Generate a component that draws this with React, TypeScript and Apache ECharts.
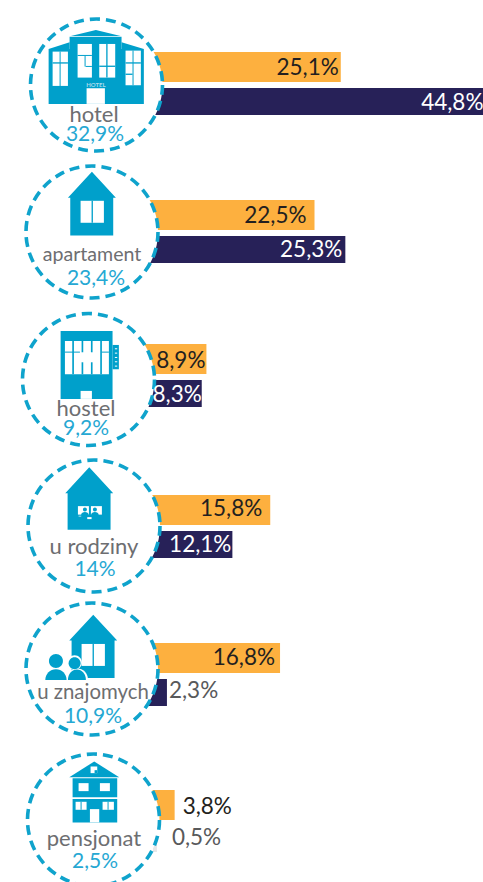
import React, { useEffect, useRef } from "react";
import * as echarts from "echarts";

const categories = ["hotel", "apartament", "hostel", "u rodziny", "u znajomych", "pensjonat"];
const shareValues = [32.9, 23.4, 9.2, 14, 10.9, 2.5];
const orangeValues = [25.1, 22.5, 8.9, 15.8, 16.8, 3.8];
const darkValues = [44.8, 25.3, 8.3, 12.1, 2.3, 0.5];

// layout (px)
const orangeTop = [52, 200, 344, 495, 643, 790];
const darkTop = [88, 236, 380, 531, 679, 825];
const orangeOrigin = [145, 139, 137, 147, 149, 145];
const darkOrigin = [137, 148, 137, 138, 149, 153];
const orangeLabelGap = [2, 8, 1, 8, 5, 8];
const darkLabelGap = [3, 3, 0, 1, 2, 15];
const orangeLabelDy = [-1, -1, 0, -3, -2, 0];
const darkLabelDy = [0, -1, 0, -1, -3, -2];
const circleX = [96.5, 92, 88.5, 94, 92, 93.5];
const circleY = [85, 232, 379.5, 526, 669, 820];
const labelPos = [[94, 113], [92, 253], [86, 407], [94, 545], [93, 691], [94, 837]];
const valuePos = [[95, 132], [96, 276], [86, 426], [95, 567], [93, 714], [95, 859]];
const labelSize = [22, 19.6, 22, 22, 20.4, 22];

const ORANGE = "#fdb03f";
const NAVY = "#272158";
const BLUE = "#00a0cb";
const TXTBLUE = "#26a8d3";
const GREY = "#6d6e71";
const INK = "#231f20";
const FONT = "Lato, 'Open Sans', sans-serif";
const PX_PER_UNIT = 7.8;
const AXIS_MAX = 50;

const fmt = (v: number) => String(v).replace(".", ",") + "%";

const r = (x0: number, y0: number, x1: number, y1: number, fill = BLUE) => ({
  type: "rect",
  shape: { x: x0, y: y0, width: x1 - x0, height: y1 - y0 },
  style: { fill },
});
const w = (x0: number, y0: number, x1: number, y1: number) => r(x0, y0, x1, y1, "#ffffff");
const poly = (points: number[][], fill = BLUE) => ({ type: "polygon", shape: { points }, style: { fill } });
const house = (cx: number, top: number, eave: number, bottom: number) =>
  poly([
    [cx, top], [cx + 72, eave], [cx + 64, eave], [cx + 64, bottom],
    [cx - 65, bottom], [cx - 65, eave], [cx - 72, eave],
  ]);
const icon = (y: number, children: any[]) => ({
  type: "group", x: 0, y, scaleX: 1 / 3, scaleY: 1 / 3, z: 6, children: children.map((c) => ({ ...c, z: 6 })),
});
const body = (cx: number, cy: number, rx: number, ry: number, fill = BLUE) => ({
  type: "ellipse", shape: { cx, cy, rx, ry }, style: { fill },
});

const icons = [
  icon(0, [
    poly([[213, 108], [288, 90], [362, 108]]),
    r(209, 110, 365, 150),
    poly([[146, 147], [209, 127], [209, 150]]),
    poly([[365, 127], [432, 147], [365, 150]]),
    r(146, 147, 432, 312),
    w(158, 155, 204, 258), r(179, 155, 182, 258), r(158, 187, 204, 191),
    w(233, 132, 276, 233), r(233, 165, 276, 168), r(254, 168, 257, 200), r(257, 198, 276, 201),
    w(298, 132, 346, 233), r(319, 132, 323, 233), r(298, 197, 346, 201),
    w(377, 152, 423, 256), r(398, 152, 401, 256), r(377, 187, 423, 191), r(377, 221, 398, 225),
    w(260, 265, 315, 312),
    { type: "text", style: { text: "HOTEL", x: 288, y: 254, align: "center", verticalAlign: "middle", fontFamily: FONT, fontSize: 18, fontWeight: 700, fill: "#a9dcec" } },
  ]),
  icon(0, [
    house(276, 516, 594, 707),
    w(242, 603, 312, 669), r(275, 603, 279, 669),
  ]),
  icon(300, [
    r(182, 93, 338, 297),
    r(338, 135, 357, 208),
    ...[145, 158, 171, 184, 197].map((y) => w(345, y, 352, y + 3)),
    w(195, 123, 327, 223),
    r(217, 123, 222, 223), r(301, 123, 306, 223),
    r(245, 123, 250, 157), r(273, 123, 278, 157),
    r(245, 187, 250, 223), r(273, 187, 278, 223),
    r(195, 155, 240, 158), r(305, 155, 327, 158),
    w(242, 273, 276, 297),
  ]),
  icon(300, [
    house(268, 502, 580, 690),
    w(234, 619, 267, 645), w(273, 619, 306, 645),
    body(255, 629, 6, 6), body(285, 629, 6, 6),
    body(255, 644, 11, 7), body(285, 644, 11, 7),
    r(230, 645, 310, 660),
    w(236, 648, 244, 650), w(262, 652, 275, 658),
  ]),
  icon(590, [
    house(280, 74, 152, 264),
    w(245, 162, 315, 228), r(278, 162, 282, 228),
    { ...body(224, 218, 22, 22, "#ffffff") },
    { ...body(232, 268, 32, 32, "#ffffff") },
    body(168, 213, 21, 21),
    body(168, 270, 32, 32),
    body(224, 220, 18, 18),
    body(231, 270, 27, 31),
    w(130, 270, 270, 305),
  ]),
  icon(590, [
    poly([[283, 515], [358, 562], [208, 562]]),
    w(272, 530, 292, 550), r(284, 541, 292, 550),
    r(218, 565, 352, 622),
    r(218, 628, 352, 698),
    w(236, 580, 266, 604), w(300, 580, 330, 604),
    w(227, 636, 260, 660), r(242, 636, 245, 660),
    w(308, 636, 342, 660), r(323, 636, 326, 660),
    w(270, 658, 298, 698),
  ]),
];

export default function App() {
  const ref = useRef<HTMLDivElement>(null);
  useEffect(() => {
    document.body.style.margin = "0";
    const chart = echarts.init(ref.current!, null, { renderer: "svg" });
    const grids: any[] = [];
    const xAxes: any[] = [];
    const yAxes: any[] = [];
    const series: any[] = [];

    const addBar = (
      name: string, category: string, value: number, color: string, left: number, top: number, height: number,
      label: any,
    ) => {
      const i = grids.length;
      grids.push({ left, top, height, width: AXIS_MAX * PX_PER_UNIT, outerBoundsMode: "none" });
      xAxes.push({ type: "value", gridIndex: i, min: 0, max: AXIS_MAX, show: false });
      yAxes.push({ type: "category", gridIndex: i, data: [category], show: false });
      series.push({
        name, type: "bar", xAxisIndex: i, yAxisIndex: i, data: [value], barWidth: "100%", barGap: "-100%",
        itemStyle: { color }, z: 2, silent: true,
      });
      // transparent twin, drawn above the circles, carries the value label
      series.push({
        name: name + " label", type: "bar", xAxisIndex: i, yAxisIndex: i, data: [value], barWidth: "100%", barGap: "-100%",
        itemStyle: { color: "transparent" }, z: 10, silent: true,
        label: { show: true, formatter: () => fmt(value), fontFamily: FONT, fontSize: 22.5, ...label },
      });
    };

    categories.forEach((c, i) => {
      const oOutside = orangeValues[i] < 5;
      addBar("A", c, orangeValues[i], ORANGE, orangeOrigin[i], orangeTop[i], 30, {
        position: oOutside ? "right" : "insideRight",
        distance: orangeLabelGap[i],
        offset: [0, orangeLabelDy[i]],
        color: INK,
      });
      const dOutside = darkValues[i] < 5;
      addBar("B", c, darkValues[i], darkValues[i] < 1 ? "#e6e7e8" : NAVY, darkOrigin[i], darkTop[i], 27, {
        position: dOutside ? "right" : "insideRight",
        distance: darkLabelGap[i],
        offset: [0, darkLabelDy[i]],
        color: dOutside ? "#58595b" : "#ffffff",
      });
    });

    const circles = categories.map((_, i) => ({
      type: "circle", z: 5,
      shape: { cx: circleX[i], cy: circleY[i], r: 66 },
      style: { fill: "#ffffff", stroke: "#0fa3cc", lineWidth: 3.6, lineDash: [10, 6] },
    }));
    const texts = categories.flatMap((c, i) => [
      {
        type: "text", z: 7, x: labelPos[i][0], y: labelPos[i][1],
        style: { text: c, align: "center", verticalAlign: "middle", fontFamily: FONT, fontSize: labelSize[i], fill: GREY },
      },
      {
        type: "text", z: 7, x: valuePos[i][0], y: valuePos[i][1],
        style: { text: fmt(shareValues[i]), align: "center", verticalAlign: "middle", fontFamily: FONT, fontSize: 21, fill: TXTBLUE },
      },
    ]);

    chart.setOption({
      animation: false,
      backgroundColor: "#ffffff",
      grid: grids,
      xAxis: xAxes,
      yAxis: yAxes,
      series,
      graphic: { elements: [...circles, ...icons, ...texts] },
    });
    return () => chart.dispose();
  }, []);
  return <div ref={ref} style={{ width: 483, height: 882, overflow: "hidden" }} />;
}
